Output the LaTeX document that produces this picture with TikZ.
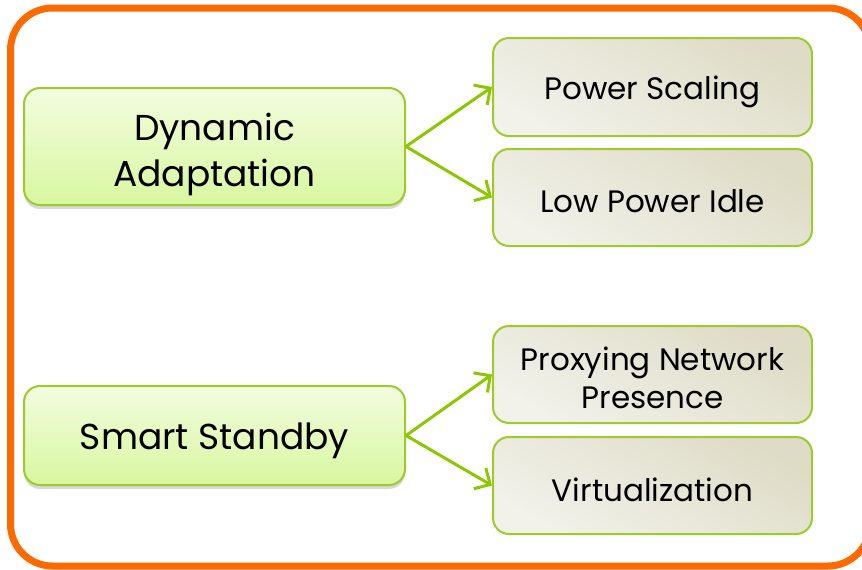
\documentclass[tikz,border=0pt]{standalone}
\usepackage{fontspec}
\setmainfont{Poppins}
\usetikzlibrary{arrows.meta,shadows}
\definecolor{orng}{HTML}{FF6A00}
\definecolor{grn}{HTML}{8CC800}
\definecolor{bgrn}{HTML}{9CCB2A}
\definecolor{gtop}{HTML}{F3FCDF}
\definecolor{gbot}{HTML}{D8F7A0}
\definecolor{rtop}{HTML}{DEDCC6}
\definecolor{rbot}{HTML}{F2F1EA}
\tikzset{
  leftbox/.style={draw=bgrn, line width=2pt, rounded corners=16pt,
    top color=gtop, bottom color=gbot,
    drop shadow={shadow xshift=0pt, shadow yshift=-4pt, opacity=0.3},
    minimum width=381pt},
  rightbox/.style={draw=bgrn, line width=2pt, rounded corners=16pt,
    top color=rtop, bottom color=rbot, shading angle=-30,
    minimum width=319pt, minimum height=97pt},
  lefttext/.style={align=center, font=\fontsize{36}{46}\selectfont},
  righttext/.style={align=center, font=\fontsize{31}{38}\selectfont},
  conn/.style={grn, line width=3pt, -{Straight Barb[length=12pt,width=24pt,line width=3pt]}}
}
\begin{document}
\begin{tikzpicture}[x=1pt,y=-1pt]
\useasboundingbox (0,0) rectangle (862,570);
\clip (0,0) rectangle (862,570);
\fill[white] (0,0) rectangle (862,570);
\draw[orng, line width=7pt, rounded corners=42pt] (10.5,8) rectangle (870,566);
\node[leftbox, minimum height=117pt] (da) at (214.5,146.5) {};
\node[leftbox, minimum height=99pt] (ss) at (214.5,435.5) {};
\node[rightbox, minimum height=98pt] (ps) at (652.5,87) {};
\node[rightbox] (lp) at (652.5,197.5) {};
\node[rightbox] (pn) at (652.5,374.5) {};
\node[rightbox] (vz) at (652.5,485.5) {};
\node[lefttext] (dat) at ([yshift=-8pt]da.center) {Dynamic\\Adaptation};
\node[lefttext] (sst) at ([yshift=-5pt]ss.center) {Smart Standby};
\node[righttext] (pst) at ([yshift=-5pt]ps.center) {Power Scaling};
\node[righttext] (lpt) at ([yshift=-4pt]lp.center) {Low Power Idle};
\node[righttext] (pnt) at ([yshift=-3pt]pn.center) {Proxying Network\\Presence};
\node[righttext] (vzt) at ([yshift=-4pt]vz.center) {Virtualization};
\draw[conn] (da.east) -- (ps.west);
\draw[conn] (da.east) -- (lp.west);
\draw[conn] (ss.east) -- (pn.west);
\draw[conn] (ss.east) -- (vz.west);
\end{tikzpicture}
\end{document}
